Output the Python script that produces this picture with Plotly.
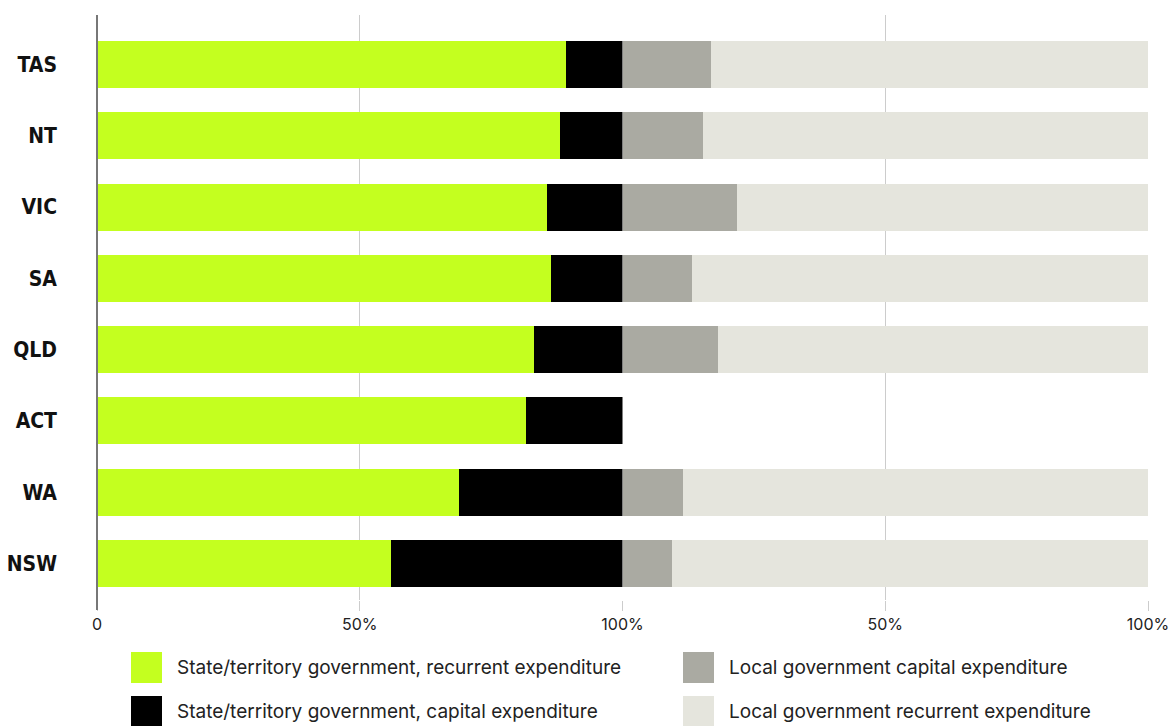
import plotly.graph_objects as go

# Data (percent shares), bottom-to-top order of rows
states = ["NSW", "WA", "ACT", "QLD", "SA", "VIC", "NT", "TAS"]
state_recurrent = [55.9, 68.8, 81.6, 83.1, 86.3, 85.7, 88.2, 89.2]
state_capital = [44.1, 31.2, 18.4, 16.9, 13.7, 14.3, 11.8, 10.8]
local_capital = [9.5, 11.5, None, 18.1, 13.3, 21.8, 15.4, 16.9]
local_recurrent = [90.5, 88.5, None, 81.9, 86.7, 78.2, 84.6, 83.1]

series_names = [
    "State/territory government, recurrent expenditure",
    "State/territory government, capital expenditure",
    "Local government capital expenditure",
    "Local government recurrent expenditure",
]
series_colors = ["#c4ff1f", "#000000", "#aaaaa2", "#e5e5dd"]

left_tickvals = [0, 50, 100]
left_ticktext = ["0", "50%", "100%"]
right_tickvals = [0, 50, 100]
right_ticktext = ["", "50%", "100%"]

W, H = 1176, 726
ML, MR, MT, MB = 97, 28, 15, 126
PW, PH = W - ML - MR, H - MT - MB

fig = go.Figure()
data_sets = [
    (state_recurrent, "x"),
    (state_capital, "x"),
    (local_capital, "x2"),
    (local_recurrent, "x2"),
]
for (vals, xa), name, col in zip(data_sets, series_names, series_colors):
    fig.add_trace(go.Bar(
        y=states, x=vals, orientation="h", name=name, xaxis=xa, yaxis="y",
        marker=dict(color=col, line=dict(width=0)), width=0.66,
        showlegend=False,
    ))

tickfont = dict(family="Inter, Roboto, sans-serif", size=16, color="#222222")
fig.update_layout(
    width=W, height=H,
    margin=dict(l=ML, r=MR, t=MT, b=MB, autoexpand=False),
    paper_bgcolor="white", plot_bgcolor="white",
    barmode="stack",
    bargap=0.34,
    xaxis=dict(domain=[0, 0.5], range=[0, 100], tickvals=left_tickvals,
               ticktext=left_ticktext, showgrid=True, gridcolor="#cccccc",
               gridwidth=1, zeroline=False, ticks="outside", ticklen=10,
               tickcolor="#cccccc", tickfont=tickfont, showline=False,
               automargin=False),
    xaxis2=dict(domain=[0.5, 1], range=[0, 100], tickvals=right_tickvals,
                ticktext=right_ticktext, showgrid=True, gridcolor="#cccccc",
                gridwidth=1, zeroline=False, ticks="outside", ticklen=10,
                tickcolor="#cccccc", tickfont=tickfont, anchor="y",
                showline=False, automargin=False),
    yaxis=dict(categoryorder="array", categoryarray=states,
               range=[-0.512, 7.694], showgrid=False, zeroline=False,
               showline=False, ticks="", ticklabelstandoff=39,
               automargin=False,
               tickfont=dict(family="DejaVu Sans Condensed, Liberation Sans Narrow, sans-serif",
                             size=21, color="#111111", weight="bold")),
)

def px_x(px):
    return (px - ML) / PW

def px_y(py):
    return (H - MB - py) / PH

# dark left axis line
fig.add_shape(type="line", xref="paper", yref="paper",
              x0=0, x1=0, y0=px_y(610), y1=1,
              line=dict(color="#777777", width=2))

# custom legend (2 columns x 2 rows)
legend_pos = [(131, 652), (131, 696), (683, 652), (683, 696)]
for (sx, sy), name, col in zip(legend_pos, series_names, series_colors):
    fig.add_shape(type="rect", xref="paper", yref="paper",
                  x0=px_x(sx), x1=px_x(sx + 31), y0=px_y(sy + 31), y1=px_y(sy),
                  fillcolor=col, line=dict(width=0))
    fig.add_annotation(xref="paper", yref="paper", x=px_x(sx + 44),
                       y=px_y(sy + 15.5), text=name, showarrow=False,
                       xanchor="left", yanchor="middle",
                       font=dict(family="Inter, Roboto, sans-serif", size=19,
                                 color="#222222"))

fig.write_html("out.html")
